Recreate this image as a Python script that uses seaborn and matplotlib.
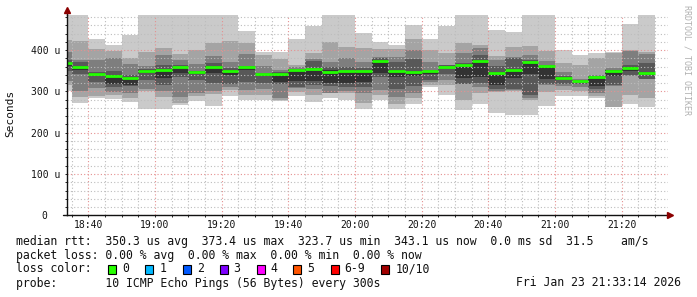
import numpy as np
import pandas as pd
import matplotlib
matplotlib.use("Agg")
import matplotlib.pyplot as plt
from matplotlib.patches import Rectangle
import seaborn as sns

# ---------------- data (values in microseconds) ----------------
# each bar covers 5 minutes; start times in minutes after 18:00
bar_start = list(range(30, 210, 5))

median = [368, 360, 342, 337, 332, 349, 351, 358, 347, 358, 349, 359, 342, 341, 351, 355, 348, 349,
          349, 373, 350, 346, 349, 358, 364, 374, 345, 352, 370, 361, 332, 324, 334, 349, 356, 344]

# sorted ping results (10 pings per step)
ping10 = [490, 490, 428, 412, 436, 490, 490, 490, 490, 490, 490, 446, 395, 396, 428, 458, 490, 490,
          442, 420, 412, 461, 426, 458, 490, 490, 449, 445, 490, 490, 400, 388, 394, 396, 463, 490]
ping09 = [425, 422, 402, 398, 382, 396, 404, 390, 400, 418, 422, 418, 388, 378, 364, 394, 420, 408,
          404, 402, 402, 428, 400, 394, 418, 412, 386, 407, 410, 398, 369, 364, 380, 392, 400, 396]
ping08 = [395, 376, 376, 380, 366, 361, 388, 375, 366, 386, 372, 390, 361, 353, 360, 378, 370, 380,
          372, 384, 384, 400, 372, 364, 394, 406, 376, 384, 388, 374, 348, 330, 340, 356, 398, 390]
ping07 = [375, 372, 348, 349, 340, 355, 364, 365, 350, 368, 356, 361, 345, 348, 355, 374, 360, 358,
          357, 380, 370, 378, 352, 364, 368, 388, 361, 380, 376, 364, 337, 328, 338, 352, 364, 368]
ping06 = [370, 362, 345, 340, 335, 352, 355, 360, 349, 362, 352, 360, 342, 345, 352, 356, 352, 350,
          350, 376, 352, 350, 350, 360, 366, 376, 346, 355, 372, 362, 334, 326, 336, 351, 359, 346]
ping05 = [362, 353, 340, 318, 315, 345, 332, 344, 342, 344, 340, 352, 338, 323, 324, 326, 321, 321,
          323, 344, 335, 338, 342, 356, 332, 336, 315, 332, 342, 331, 327, 322, 313, 337, 350, 340]
ping04 = [350, 343, 323, 311, 312, 328, 316, 336, 328, 320, 318, 323, 320, 318, 311, 316, 313, 311,
          310, 336, 307, 313, 328, 342, 319, 320, 307, 307, 291, 318, 319, 318, 305, 315, 340, 331]
ping03 = [325, 301, 308, 299, 295, 307, 300, 286, 295, 300, 311, 303, 307, 283, 308, 305, 297, 300,
          295, 303, 287, 295, 322, 327, 317, 311, 302, 303, 283, 315, 313, 311, 296, 312, 338, 330]
ping02 = [315, 286, 289, 291, 285, 300, 286, 271, 289, 294, 303, 291, 291, 280, 299, 291, 295, 295,
          271, 291, 269, 285, 316, 315, 279, 295, 299, 300, 280, 299, 303, 301, 288, 263, 291, 283]
ping01 = [300, 273, 284, 281, 275, 257, 257, 268, 277, 265, 289, 278, 278, 277, 289, 275, 285, 278,
          258, 278, 258, 269, 311, 291, 255, 269, 247, 243, 243, 265, 289, 289, 283, 262, 269, 263]

x_tick_minutes = [40, 60, 80, 100, 120, 140, 160, 180, 200]
x_tick_labels = ["18:40", "19:00", "19:20", "19:40", "20:00", "20:20", "20:40", "21:00", "21:20"]
y_tick_values = [0, 100, 200, 300, 400]
y_tick_labels = ["0\u00a0\u00a0", "100 u", "200 u", "300 u", "400 u"]

loss_labels = ["0", "1", "2", "3", "4", "5", "6-9", "10/10"]
loss_colors = ["#26ff00", "#00b8ff", "#0059ff", "#7e00ff", "#ff00ff", "#ff5500", "#ff0000", "#a10000"]

stat_lines = [
    "median rtt:  350.3 us avg  373.4 us max  323.7 us min  343.1 us now  0.0 ms sd  31.5    am/s",
    "packet loss: 0.00 % avg  0.00 % max  0.00 % min  0.00 % now",
    "loss color:",
    "probe:       10 ICMP Echo Pings (56 Bytes) every 300s",
]
stamp = "Fri Jan 23 21:33:14 2026"

# ---------------- figure ----------------
sns.set_theme(style="white")
plt.rcParams["font.family"] = ["DejaVu Sans Mono", "DejaVu Sans"]

W, H = 697, 297
fig = plt.figure(figsize=(W / 100, H / 100), dpi=100)
fig.patch.set_facecolor("white")

def px_x(x):
    return x / W

def px_y(y):
    return 1 - y / H

ax_l, ax_r, ax_t, ax_b = 66.7, 668.0, 15.0, 215.3
ax = fig.add_axes([px_x(ax_l), px_y(ax_b), (ax_r - ax_l) / W, (ax_b - ax_t) / H])
ax.set_facecolor("white")

# time mapping: 18:40 at x=88.3, 20 min = 66.67 px
def t_at(x):
    return 40 + (x - 88.3) / 3.3333

ax.set_xlim(t_at(ax_l), t_at(ax_r))
ax.set_ylim(0, 485)

pings = [ping01, ping02, ping03, ping04, ping05, ping06, ping07, ping08, ping09, ping10]
band_colors = ["#cacaca", "#a4a4a4", "#7e7e7e", "#585858", "#323232",
               "#585858", "#7e7e7e", "#a4a4a4", "#cacaca"]
for k in range(9):
    lo = np.array(pings[k], dtype=float)
    hi = np.array(pings[k + 1], dtype=float)
    ax.bar(bar_start, hi - lo, bottom=lo, width=5, align="edge",
           color=band_colors[k], linewidth=0, zorder=1)

# median segments (one per step) with seaborn
idx = np.arange(len(bar_start))
seg = pd.DataFrame({
    "t": np.concatenate([np.array(bar_start, float), np.array(bar_start, float) + 5]),
    "rtt": np.concatenate([median, median]),
    "bar": np.concatenate([idx, idx]),
})
sns.lineplot(data=seg, x="t", y="rtt", units="bar", estimator=None, color="#22ff00",
             lw=2.0, ax=ax, legend=False, zorder=3, solid_capstyle="butt")
ax.set_xlabel("")
ax.set_ylabel("")

# ticks / grid
minor_x = [m for m in range(35, 215, 5) if m not in x_tick_minutes]
minor_y = [v for v in range(20, 485, 20) if v not in y_tick_values]
ax.set_xticks(x_tick_minutes)
ax.set_xticklabels(x_tick_labels)
ax.set_xticks(minor_x, minor=True)
ax.set_yticks(y_tick_values)
ax.set_yticklabels(y_tick_labels)
ax.set_yticks(minor_y, minor=True)

ax.set_axisbelow(False)
ax.grid(which="major", color="#e59090", linestyle=(0, (1, 2)), linewidth=0.8)
ax.grid(which="minor", color="#bdbdbd", linestyle=(0, (1, 2)), linewidth=0.8)

ax.tick_params(axis="both", which="both", direction="out", length=1.6, width=0.7,
               color="#222222", labelsize=7, labelcolor="#111111")
ax.tick_params(axis="x", which="both", pad=1.8, bottom=True)
ax.tick_params(axis="y", which="both", pad=3.3, left=True)
for lab in ax.get_xticklabels() + ax.get_yticklabels():
    lab.set_fontfamily("DejaVu Sans Mono")

for s in ["top", "right"]:
    ax.spines[s].set_visible(False)
for s in ["left", "bottom"]:
    ax.spines[s].set_color("#111111")
    ax.spines[s].set_linewidth(1.0)
    ax.spines[s].set_zorder(5)

# axis extensions and arrows
ax.plot([0, 0], [1, 1.02], transform=ax.transAxes, color="#111111", lw=1.0, clip_on=False)
ax.plot([-0.006, 0], [0, 0], transform=ax.transAxes, color="#111111", lw=1.0, clip_on=False)
ax.plot([0], [1.025], transform=ax.transAxes, marker="^", markersize=4.0, color="#8b0000",
        clip_on=False, zorder=6)
ax.plot([1.004], [0], transform=ax.transAxes, marker=">", markersize=4.0, color="#8b0000",
        clip_on=False, zorder=6)

# y-axis title and watermark
fig.text(px_x(10.5), px_y(113), "Seconds", rotation=90, ha="center", va="center",
         fontsize=8, family="DejaVu Sans Mono", color="#111111")
fig.text(px_x(687.5), px_y(60), "RRDTOOL / TOBI OETIKER", rotation=270, ha="center", va="center",
         fontsize=6, family="DejaVu Sans Mono", color="#b0b0b0")

# legend / statistics lines
FS = 8.3
line_y = [241, 255, 269, 283]
for s, yy in zip(stat_lines, line_y):
    fig.text(px_x(16), px_y(yy), s, ha="left", va="center", fontsize=FS,
             family="DejaVu Sans Mono", color="#111111")
fig.text(px_x(681), px_y(283), stamp, ha="right", va="center", fontsize=FS,
         family="DejaVu Sans Mono", color="#111111")

sq_x = [108.4, 145.3, 182.7, 219.6, 256.9, 293.3, 330.7, 381.3]
for x0, lab, col in zip(sq_x, loss_labels, loss_colors):
    fig.add_artist(Rectangle((px_x(x0), px_y(273.5)), 8 / W, 9 / H, transform=fig.transFigure,
                             facecolor=col, edgecolor="#000000", linewidth=0.8))
    fig.text(px_x(x0 + 14), px_y(269), lab, ha="left", va="center", fontsize=FS,
             family="DejaVu Sans Mono", color="#111111")

fig.savefig("out.png", dpi=100, facecolor="white")
